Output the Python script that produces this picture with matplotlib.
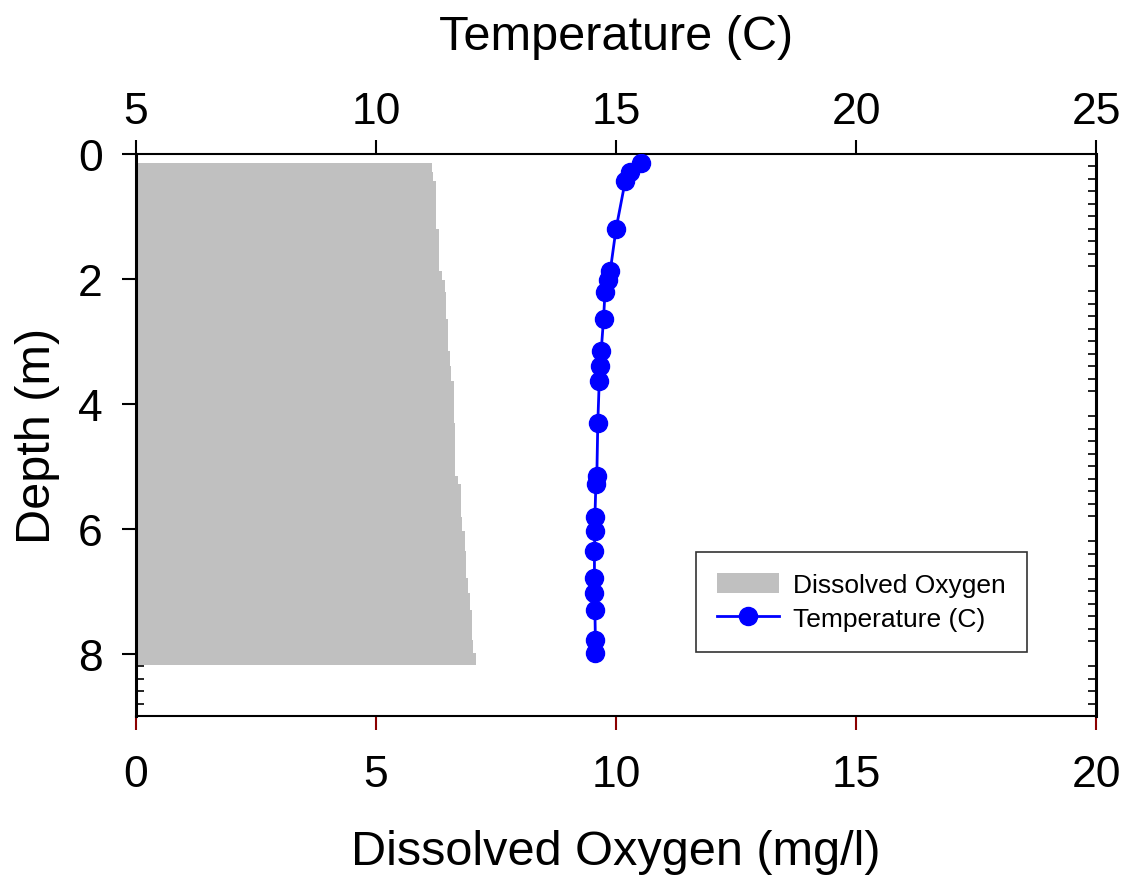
import numpy as np
import matplotlib
matplotlib.use("Agg")
import matplotlib.pyplot as plt
from matplotlib.ticker import MultipleLocator
from matplotlib.patches import Patch
from matplotlib.lines import Line2D

plt.rcParams['font.family'] = ['Liberation Sans', 'DejaVu Sans']

# profile data
depth = [0.15, 0.29, 0.44, 1.20, 1.87, 2.02, 2.21, 2.64, 3.16, 3.40, 3.64,
         4.31, 5.16, 5.28, 5.82, 6.03, 6.36, 6.79, 7.03, 7.31, 7.79, 7.99]
depth_end = 8.18
temp = [15.52, 15.29, 15.19, 15.00, 14.88, 14.83, 14.77, 14.74, 14.69, 14.67, 14.65,
        14.62, 14.60, 14.58, 14.56, 14.56, 14.55, 14.55, 14.55, 14.56, 14.57, 14.57]
do = [6.17, 6.18, 6.24, 6.31, 6.38, 6.44, 6.45, 6.50, 6.54, 6.56, 6.62,
      6.65, 6.71, 6.76, 6.79, 6.85, 6.88, 6.92, 6.96, 7.00, 7.01, 7.08]

fig = plt.figure(figsize=(11.26, 8.79), dpi=100)
ax = fig.add_axes([0.1208, 0.1843, 0.8526, 0.6394])
ax.set_axisbelow(True)

# dissolved oxygen as a stepped gray area
y_edges = np.append(depth, depth_end)
x_vals = np.append(do, do[-1])
ax.fill_betweenx(y_edges, 0, x_vals, step='post', color='#c0c0c0', lw=0)

ax.set_xlim(0, 20)
ax.set_ylim(9, 0)
ax.xaxis.set_major_locator(MultipleLocator(5))
ax.yaxis.set_major_locator(MultipleLocator(2))
ax.yaxis.set_minor_locator(MultipleLocator(0.2))
ax.tick_params(axis='x', which='major', direction='out', length=10, width=1.5,
               color='#8b0000', labelsize=32, pad=17)
ax.tick_params(axis='y', which='major', direction='out', length=10, width=1.5,
               labelsize=32, pad=14, right=False)
ax.tick_params(axis='y', which='minor', direction='in', length=6, width=1.2,
               left=True, right=True)
ax.set_xlabel('Dissolved Oxygen (mg/l)', fontsize=35, labelpad=25)
ax.set_ylabel('Depth (m)', fontsize=35, labelpad=13)
for s in ax.spines.values():
    s.set_linewidth(1.5)
ax.spines['left'].set_linewidth(2.2)
ax.spines['right'].set_linewidth(2.2)

# temperature on the top axis
ax2 = ax.twiny()
ax2.plot(temp, depth, color='blue', lw=2, marker='o', ms=13, mec='blue', mfc='blue')
ax2.set_xlim(5, 25)
ax2.xaxis.set_major_locator(MultipleLocator(5))
ax2.tick_params(axis='x', direction='out', length=10, width=1.5, labelsize=32, pad=6)
ax2.set_xlabel('Temperature (C)', fontsize=35, labelpad=30)
for s in ax2.spines.values():
    s.set_visible(False)

handles = [Patch(facecolor='#c0c0c0', edgecolor='none'),
           Line2D([], [], color='blue', lw=2, marker='o', ms=13)]
leg = ax2.legend(handles, ['Dissolved Oxygen', 'Temperature (C)'],
                 loc='lower left', bbox_to_anchor=(0.583, 0.114),
                 fontsize=19, frameon=True, fancybox=False, edgecolor='black',
                 borderpad=0.8, handlelength=2.35, handleheight=0.8,
                 handletextpad=0.55, labelspacing=0.35, borderaxespad=0)
leg.get_frame().set_linewidth(1.2)

fig.savefig('out.png', dpi=100)
